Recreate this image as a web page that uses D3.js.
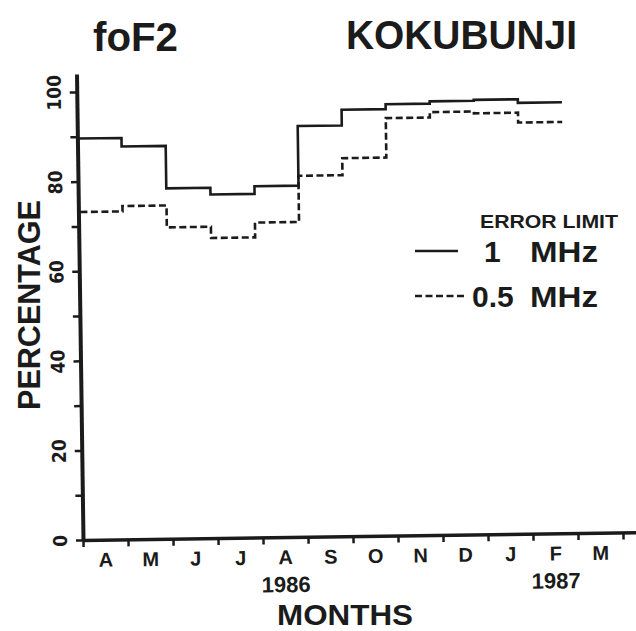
<!DOCTYPE html>
<html>
<head>
<meta charset="utf-8">
<script src="https://cdn.jsdelivr.net/npm/d3@7"></script>
<style>
  html, body { margin: 0; padding: 0; background: #fff; }
  svg { display: block; }
  text { font-family: "Liberation Sans", Arial, Helvetica, sans-serif; fill: #1b1b1b; }
</style>
</head>
<body>
<script>
// foF2 prediction accuracy at Kokubunji, April 1986 – March 1987
const months = ["A", "M", "J", "J", "A", "S", "O", "N", "D", "J", "F", "M"];
// monthly percentage of hours within the error limit (Apr 1986 .. Feb 1987)
const within1MHz = [89.6, 87.7, 78.2, 76.7, 78.4, 91.7, 95.2, 96.3, 96.8, 97.0, 96.2];
const within05MHz = [73.2, 74.4, 69.5, 67.0, 70.3, 80.6, 84.4, 93.2, 94.4, 94.0, 91.8];
const yTicks = [0, 10, 20, 30, 40, 50, 60, 70, 80, 90, 100];
const yLabelTicks = [0, 20, 40, 60, 80, 100];
const years = ["1986", "1987"];
const yearMonth = [4, 10];   // year label sits under Aug 1986 and Feb 1987
const legendItems = [
  { value: "1", unit: "MHz", dash: null },
  { value: "0.5", unit: "MHz", dash: "7,3.5" }
];

const W = 636, H = 631;
const ink = "#1b1b1b";

const svg = d3.select("body").append("svg")
  .attr("width", W).attr("height", H)
  .attr("viewBox", `0 0 ${W} ${H}`);

// month axis: one unit per month, the line runs a little past March
const x = d3.scaleLinear().domain([0, 12.3]).range([83, 636.5]);
// the step traces are drawn on their own, slightly narrower month scale
const stepX = d3.scaleLinear().domain([0, 11]).range([83, 568]);
const y = d3.scaleLinear().domain([0, 104]).range([540, 74]);

// the plot frame sits with a slight tilt
const plot = svg.append("g").attr("transform", "rotate(-0.8,83,540)");

// x axis
const gx = plot.append("g")
  .attr("transform", `translate(0,${y(0)})`)
  .call(d3.axisBottom(x).tickValues(d3.range(13)).tickSize(7).tickSizeOuter(0).tickFormat(""));
gx.select(".domain").attr("stroke", ink).attr("stroke-width", 3.5);
gx.selectAll(".tick line").attr("stroke", ink).attr("stroke-width", 2.5);

// y axis
const gy = plot.append("g")
  .attr("transform", `translate(${x(0)},0)`)
  .call(d3.axisLeft(y).tickValues(yTicks).tickSize(7).tickSizeOuter(0)
    .tickFormat(d => yLabelTicks.includes(d) ? d : ""));
gy.select(".domain").attr("stroke", ink).attr("stroke-width", 4);
gy.selectAll(".tick line").attr("stroke", ink).attr("stroke-width", 2.5);
gy.selectAll(".tick text")
  .attr("x", null).attr("dy", null)
  .attr("transform", "translate(-16,0) rotate(-90)")
  .attr("text-anchor", "middle")
  .style("font-family", "'Liberation Sans Narrow', 'DejaVu Sans Condensed', 'Liberation Sans', Arial, sans-serif")
  .style("font-size", "19px")
  .style("font-weight", "bold")
  .attr("fill", ink);

// month labels between ticks
plot.append("g").selectAll("text")
  .data(months)
  .join("text")
  .attr("x", (d, i) => x(i + 0.5))
  .attr("y", 567)
  .attr("text-anchor", "middle")
  .style("font-size", "20px")
  .style("font-weight", "bold")
  .text(d => d);

// year labels
plot.append("g").selectAll("text")
  .data(years)
  .join("text")
  .attr("x", (d, i) => x(yearMonth[i] + 0.5))
  .attr("y", 595)
  .attr("text-anchor", "middle")
  .style("font-size", "22px")
  .style("font-weight", "bold")
  .text(d => d);

// step traces
const stepPoints = vals => vals.map((v, i) => ({ i, v })).concat([{ i: vals.length, v: vals[vals.length - 1] }]);
const stepLine = d3.line().x(d => stepX(d.i)).y(d => y(d.v)).curve(d3.curveStepAfter);

plot.append("path")
  .datum(stepPoints(within1MHz))
  .attr("d", stepLine)
  .attr("fill", "none")
  .attr("stroke", ink)
  .attr("stroke-width", 2.6);

plot.append("path")
  .datum(stepPoints(within05MHz))
  .attr("d", stepLine)
  .attr("fill", "none")
  .attr("stroke", ink)
  .attr("stroke-width", 2.6)
  .attr("stroke-dasharray", "7,3.5")
  .attr("stroke-dashoffset", -2);

// titles
svg.append("text")
  .attr("x", 93).attr("y", 51)
  .attr("textLength", 85).attr("lengthAdjust", "spacingAndGlyphs")
  .style("font-size", "40px").style("font-weight", "bold")
  .text("foF2");

svg.append("text")
  .attr("x", 346).attr("y", 49)
  .attr("textLength", 231).attr("lengthAdjust", "spacingAndGlyphs")
  .style("font-size", "40px").style("font-weight", "bold")
  .text("KOKUBUNJI");

// axis titles
svg.append("text")
  .attr("transform", "translate(40,305) rotate(-90)")
  .attr("text-anchor", "middle")
  .attr("textLength", 210).attr("lengthAdjust", "spacingAndGlyphs")
  .style("font-size", "31px").style("font-weight", "bold")
  .text("PERCENTAGE");

svg.append("text")
  .attr("x", 345).attr("y", 625)
  .attr("text-anchor", "middle")
  .attr("textLength", 136).attr("lengthAdjust", "spacingAndGlyphs")
  .style("font-size", "30px").style("font-weight", "bold")
  .text("MONTHS");

// legend
svg.append("text")
  .attr("x", 480).attr("y", 228)
  .attr("textLength", 138).attr("lengthAdjust", "spacingAndGlyphs")
  .style("font-size", "18px").style("font-weight", "bold")
  .text("ERROR LIMIT");

const legend = svg.append("g").selectAll("g")
  .data(legendItems)
  .join("g")
  .attr("transform", (d, i) => `translate(0,${262 + i * 45})`);

legend.append("line")
  .attr("x1", 415)
  .attr("x2", d => d.dash ? 467 : 458)
  .attr("y1", -11).attr("y2", -11)
  .attr("stroke", ink)
  .attr("stroke-width", 2.6)
  .attr("stroke-dasharray", d => d.dash);

legend.append("text")
  .attr("x", d => d.dash ? 472 : 484)
  .style("font-size", "30px").style("font-weight", "bold")
  .text(d => d.value);

legend.append("text")
  .attr("x", 530)
  .attr("textLength", 68).attr("lengthAdjust", "spacingAndGlyphs")
  .style("font-size", "30px").style("font-weight", "bold")
  .text(d => d.unit);
</script>
</body>
</html>
